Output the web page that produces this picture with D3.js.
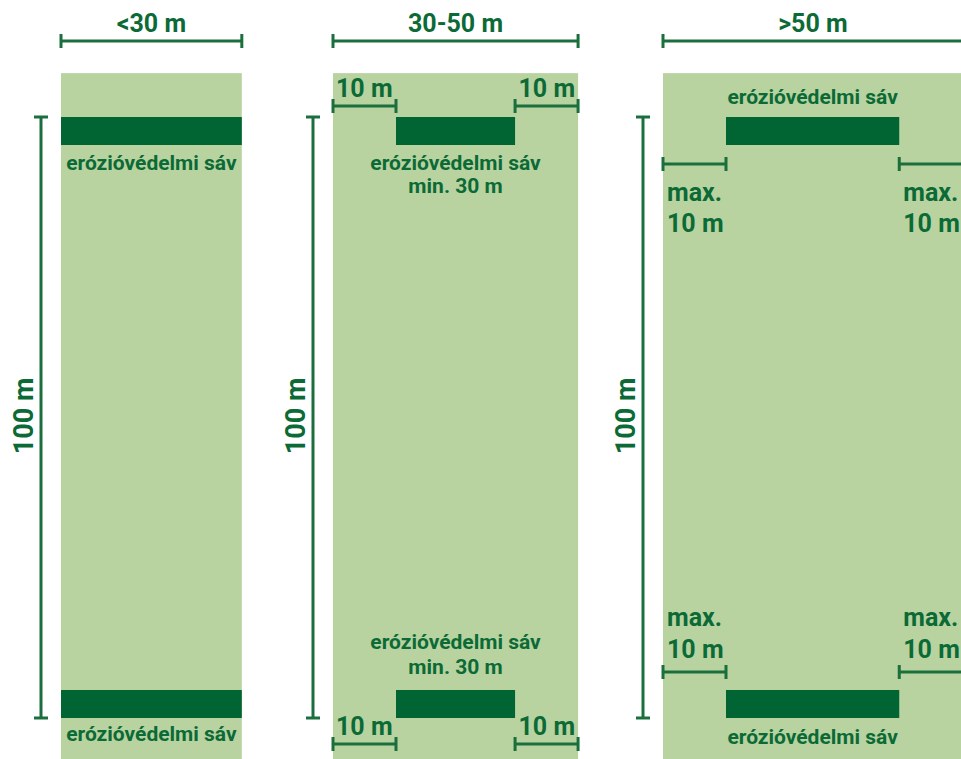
<!DOCTYPE html>
<html>
<head>
<meta charset="utf-8">
<script src="https://cdn.jsdelivr.net/npm/d3@7"></script>
<style>
  html, body { margin: 0; padding: 0; background: #fff; overflow: hidden; }
  text { font-family: Roboto, "Noto Sans", sans-serif; font-weight: 700; fill: #0b6a36; }
</style>
</head>
<body>
<div id="chart"></div>
<script>
// field widths and strip extents, in metres
var panelLabels = ["<30 m", "30-50 m", ">50 m"];
var fieldWidths = [28.7, 38.9, 47.6];
var stripStart = [0, 10, 10];
var stripEnd = [28.7, 28.9, 37.5];
var sideMargin = [null, "10 m", "max. 10 m"]; // kind of side gap per panel
var stripNotes = ["", "min. 30 m", ""];
var fieldLength = 100;
var lengthLabel = "100 m";
var stripLabel = "erózióvédelmi sáv";
var stripDepth = 4.66;

var W = 961, H = 759;
var light = "#b8d3a0", dark = "#006532", lineCol = "#1a6f3d";
var panelLeft = [61, 333, 663];
var pxPerM = 6.3;
var big = "25px", fs = "21px";

var svg = d3.select("#chart").append("svg")
  .attr("width", W).attr("height", H);

// vertical scale (metres along the field length)
var y = d3.scaleLinear().domain([0, fieldLength]).range([117, 718]);

function dimLine(g, x1, x2, yy, tick) {
  g.append("line").attr("x1", x1).attr("x2", x2).attr("y1", yy).attr("y2", yy)
    .attr("stroke", lineCol).attr("stroke-width", 3);
  [x1, x2].forEach(function (xx) {
    g.append("line").attr("x1", xx).attr("x2", xx)
      .attr("y1", yy - tick).attr("y2", yy + tick)
      .attr("stroke", lineCol).attr("stroke-width", 3);
  });
}

panelLabels.forEach(function (label, i) {
  var x = d3.scaleLinear().domain([0, fieldWidths[i]])
    .range([panelLeft[i], panelLeft[i] + fieldWidths[i] * pxPerM]);
  var g = svg.append("g");
  var xl = x(0), xr = x(fieldWidths[i]), xc = (xl + xr) / 2;

  // field
  g.append("rect")
    .attr("x", xl).attr("y", y(-7.3))
    .attr("width", xr - xl).attr("height", y(106.9) - y(-7.3))
    .attr("fill", light);

  // top width dimension
  dimLine(g, xl, xr, 41, 7);
  g.append("text").attr("x", xc).attr("y", 32)
    .attr("text-anchor", "middle").style("font-size", big).text(label);

  // length dimension
  var vx = xl - 20;
  g.append("line").attr("x1", vx).attr("x2", vx)
    .attr("y1", y(0)).attr("y2", y(fieldLength))
    .attr("stroke", lineCol).attr("stroke-width", 3);
  [0, fieldLength].forEach(function (v) {
    g.append("line").attr("x1", vx - 7).attr("x2", vx + 7)
      .attr("y1", y(v)).attr("y2", y(v))
      .attr("stroke", lineCol).attr("stroke-width", 3);
  });
  g.append("text")
    .attr("transform", "translate(" + (xl - 28) + "," + 416 + ") rotate(-90)")
    .attr("text-anchor", "middle").style("font-size", "27px").text(lengthLabel);

  // strips at both ends
  var sx0 = x(stripStart[i]), sx1 = x(stripEnd[i]);
  [[0, stripDepth], [fieldLength - stripDepth, fieldLength]].forEach(function (s) {
    g.append("rect")
      .attr("x", sx0).attr("y", y(s[0]))
      .attr("width", sx1 - sx0).attr("height", y(s[1]) - y(s[0]))
      .attr("fill", dark);
  });

  var topB = y(stripDepth), botT = y(fieldLength - stripDepth), botB = y(fieldLength);

  if (i === 0) {
    g.append("text").attr("x", xc).attr("y", topB + 25)
      .attr("text-anchor", "middle").style("font-size", fs).text(stripLabel);
    g.append("text").attr("x", xc).attr("y", botB + 23)
      .attr("text-anchor", "middle").style("font-size", fs).text(stripLabel);
  } else if (i === 1) {
    var sc = (sx0 + sx1) / 2;
    g.append("text").attr("x", sc).attr("y", topB + 25)
      .attr("text-anchor", "middle").style("font-size", fs).text(stripLabel);
    g.append("text").attr("x", sc).attr("y", topB + 48)
      .attr("text-anchor", "middle").style("font-size", fs).text(stripNotes[i]);
    g.append("text").attr("x", sc).attr("y", botT - 41)
      .attr("text-anchor", "middle").style("font-size", fs).text(stripLabel);
    g.append("text").attr("x", sc).attr("y", botT - 16)
      .attr("text-anchor", "middle").style("font-size", fs).text(stripNotes[i]);
    // 10 m gaps, above top strip and below bottom strip
    [y(0) - 11, botB + 26].forEach(function (ly) {
      dimLine(g, xl, sx0, ly, 7);
      dimLine(g, sx1, xr, ly, 7);
      g.append("text").attr("x", xl + 3).attr("y", ly - 9)
        .style("font-size", big).text(sideMargin[i]);
      g.append("text").attr("x", xr - 3).attr("y", ly - 9)
        .attr("text-anchor", "end").style("font-size", big).text(sideMargin[i]);
    });
  } else {
    var sc3 = (sx0 + sx1) / 2;
    g.append("text").attr("x", sc3).attr("y", y(0) - 13)
      .attr("text-anchor", "middle").style("font-size", fs).text(stripLabel);
    g.append("text").attr("x", sc3).attr("y", botB + 26)
      .attr("text-anchor", "middle").style("font-size", fs).text(stripLabel);
    var parts = sideMargin[i].split(" ");
    var l1 = parts[0], l2 = parts.slice(1).join(" ");
    // top gaps: dimension line then label below
    var ty = topB + 19;
    dimLine(g, xl, sx0, ty, 7);
    dimLine(g, sx1, sx1 + 80, ty, 7);
    [xl + 4, sx1 + 4].forEach(function (tx) {
      g.append("text").attr("x", tx).attr("y", ty + 37).style("font-size", big).text(l1);
      g.append("text").attr("x", tx).attr("y", ty + 68).style("font-size", big).text(l2);
    });
    // bottom gaps: label then dimension line
    var by = botT - 18;
    dimLine(g, xl, sx0, by, 7);
    dimLine(g, sx1, sx1 + 80, by, 7);
    [xl + 4, sx1 + 4].forEach(function (tx) {
      g.append("text").attr("x", tx).attr("y", by - 46).style("font-size", big).text(l1);
      g.append("text").attr("x", tx).attr("y", by - 14).style("font-size", big).text(l2);
    });
  }
});
</script>
</body>
</html>
